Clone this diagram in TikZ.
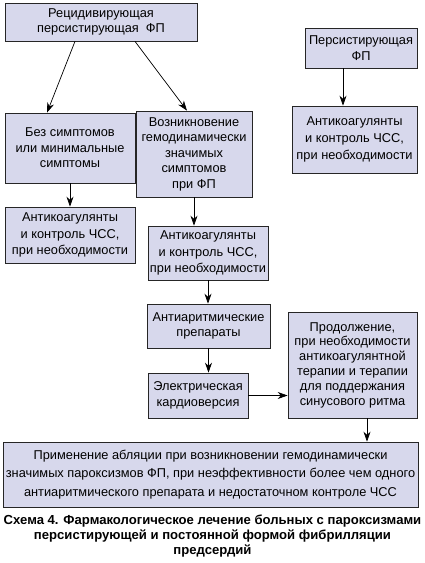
\documentclass[tikz,border=0pt]{standalone}
\usepackage{fontspec}
\setmainfont{Liberation Sans}
\usetikzlibrary{positioning,arrows.meta}
\definecolor{boxfill}{HTML}{D7D8EC}
\tikzset{
  box/.style={rectangle, draw=black!85, fill=boxfill, line width=0.7pt, inner sep=2pt,
              font=\fontsize{12.8}{15.5}\selectfont, align=center},
  wide/.style={font=\fontsize{12.8}{16.7}\selectfont},
  fwd/.style={-{Stealth[length=10pt,width=7pt]}, line width=0.7pt},
}
\begin{document}
\begin{tikzpicture}[x=1pt,y=-1pt]
  \useasboundingbox (0,0) rectangle (425,563);
  % left branch
  \node[box, minimum width=192pt, minimum height=38pt] (recur) at (101,22) {Рецидивирующая\\персистирующая\ \ ФП};
  \node[box, minimum width=130pt, minimum height=70pt] (nosym) at (70,148) {Без симптомов\\или минимальные\\симптомы};
  \node[box, minimum width=116pt, minimum height=86pt] (hemo) at (194,154) {Возникновение\\гемодинамически\\значимых\\симптомов\\при ФП};
  \node[box, wide, minimum width=130pt, minimum height=56pt] (anticoagL) at (70,235) {Антикоагулянты\\и контроль ЧСС,\\при необходимости};
  \node[box, wide, minimum width=120pt, minimum height=54pt] (anticoagM) at (208,253) {Антикоагулянты\\и контроль ЧСС,\\при необходимости};
  \node[box, minimum width=123pt, minimum height=44pt] (antiarr) at (208.5,326) {Антиаритмические\\препараты};
  \node[box, minimum width=100pt, minimum height=45pt] (cardio) at (198,395.5) {Электрическая\\кардиоверсия};
  % right branch
  \node[box, minimum width=112pt, minimum height=40pt] (pers) at (361,48) {Персистирующая\\ФП};
  \node[box, wide, minimum width=125pt, minimum height=67pt] (anticoagR) at (354.5,139.5) {Антикоагулянты\\и контроль ЧСС,\\при необходимости};
  \node[box, font=\fontsize{12.8}{14.8}\selectfont, minimum width=129pt, minimum height=106pt] (cont) at (352.5,365) {Продолжение,\\при необходимости\\антикоагулянтной\\терапии и терапии\\для поддержания\\синусового ритма};
  % bottom
  \node[box, minimum width=415pt, minimum height=65pt, font=\fontsize{12.8}{18.3}\selectfont] (ablat) at (210.5,474.5) {Применение абляции при возникновении гемодинамически\\значимых пароксизмов ФП, при неэффективности более чем одного\\антиаритмического препарата и недостаточном контроле ЧСС};
  \node[align=center, inner sep=0pt, font=\bfseries\fontsize{13.1}{14.8}\selectfont] (caption) at (212.5,536) {Схема 4. Фармакологическое лечение больных с пароксизмами\\персистирующей и постоянной формой фибрилляции\\предсердий};

  \draw[fwd] ([xshift=-26pt]recur.south) -- ([xshift=-23pt]nosym.north);
  \draw[fwd] ([xshift=34pt]recur.south) -- ([xshift=-7pt]hemo.north);
  \draw[fwd] (nosym.south) -- (anticoagL.north);
  \draw[fwd] (hemo.south) -- (hemo.south |- anticoagM.north);
  \draw[fwd] (anticoagM.south) -- (anticoagM.south |- antiarr.north);
  \draw[fwd] (antiarr.south) -- (antiarr.south |- cardio.north);
  \draw[fwd] (cardio.east) -- (cardio.east -| cont.west);
  \draw[fwd] ([xshift=-18pt]pers.south) -- ([xshift=-18pt]pers.south |- anticoagR.north);
  \draw[fwd] ([xshift=14.5pt]cont.south) -- ([xshift=14.5pt]cont.south |- ablat.north);
\end{tikzpicture}
\end{document}
